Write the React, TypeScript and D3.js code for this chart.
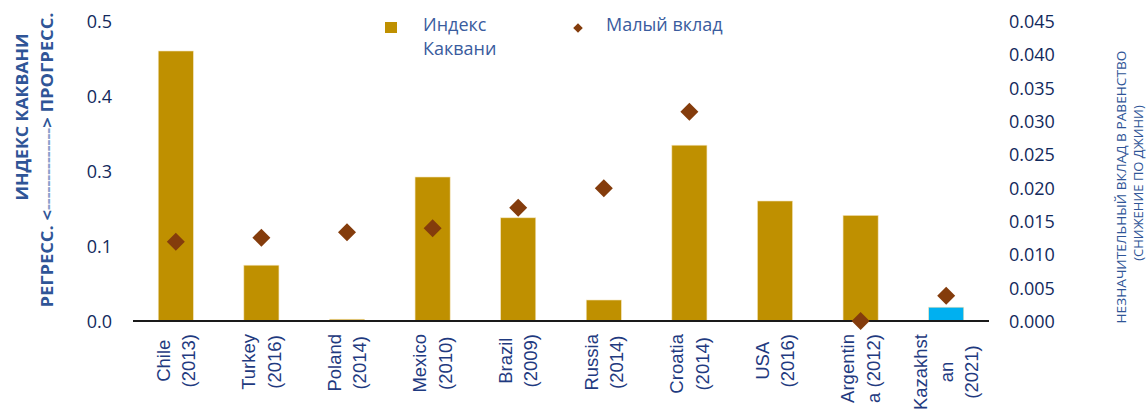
import * as d3 from "d3";
import { useMemo } from "react";

const labelLines: string[][] = [
  ["Chile", "(2013)"],
  ["Turkey", "(2016)"],
  ["Poland", "(2014)"],
  ["Mexico", "(2010)"],
  ["Brazil", "(2009)"],
  ["Russia", "(2014)"],
  ["Croatia", "(2014)"],
  ["USA", "(2016)"],
  ["Argentin", "a (2012)"],
  ["Kazakhst", "an", "(2021)"],
];
const kakwani = [0.45, 0.093, 0.003, 0.24, 0.172, 0.035, 0.293, 0.2, 0.176, 0.023];
const smallContribution: (number | null)[] = [0.0119, 0.0125, 0.0133, 0.0139, 0.017, 0.0199, 0.0314, null, 0.0, 0.0038];
const highlighted = ["Kazakhst"];

const leftTicks = [0, 0.125, 0.25, 0.375, 0.5];
const leftTickLabels = ["0.0", "0.1", "0.3", "0.4", "0.5"];
const rightTicks = [0, 0.005, 0.01, 0.015, 0.02, 0.025, 0.03, 0.035, 0.04, 0.045];
const rightTickLabels = ["0.000", "0.005", "0.010", "0.015", "0.020", "0.025", "0.030", "0.035", "0.040", "0.045"];

const W = 1146;
const H = 410;
const plot = { left: 133, right: 989, top: 21, bottom: 321 };

const GOLD = "#BF9000";
const BLUE = "#00B0F0";
const BROWN = "#843C0C";
const TICK_COLOR = "#12295C";
const TITLE_COLOR = "#2F5597";
const LABEL_FONT = "18.5px 'Liberation Sans', Arial, sans-serif";

export default function App() {
  const x = d3.scaleBand<number>().domain(d3.range(labelLines.length)).range([plot.left, plot.right]);
  const yL = d3.scaleLinear().domain([0, 0.5]).range([plot.bottom, plot.top]);
  const yR = d3.scaleLinear().domain([0, 0.045]).range([plot.bottom, plot.top]);
  const barW = x.bandwidth() * 0.41;
  const diamond = d3.symbol().type(d3.symbolSquare).size(162)() ?? "";
  const legendDiamond = d3.symbol().type(d3.symbolSquare).size(46)() ?? "";

  // widest line per label, used to top-align each wrapped block under the axis
  const widths = useMemo(() => {
    const ctx = document.createElement("canvas").getContext("2d");
    if (!ctx) return labelLines.map(() => 60);
    ctx.font = LABEL_FONT;
    return labelLines.map((lines) => Math.max(...lines.map((l) => ctx.measureText(l).width)));
  }, []);

  return (
    <svg width={W} height={H} style={{ position: "absolute", left: 0, top: 0, background: "#fff" }}>
      {/* bars */}
      {kakwani.map((v, i) => {
        const cx = (x(i) ?? 0) + x.bandwidth() / 2;
        return (
          <rect
            key={i}
            x={cx - barW / 2}
            y={yL(v)}
            width={barW}
            height={yL(0) - yL(v)}
            fill={highlighted.includes(labelLines[i][0]) ? BLUE : GOLD}
            stroke="#F3E3B8"
            strokeWidth={0.6}
          />
        );
      })}

      <line x1={plot.left} x2={plot.right} y1={plot.bottom} y2={plot.bottom} stroke="#1a1a1a" strokeWidth={2} />

      {/* diamonds */}
      {smallContribution.map((v, i) =>
        v === null ? null : (
          <path
            key={i}
            d={diamond}
            fill={BROWN}
            transform={`translate(${(x(i) ?? 0) + x.bandwidth() / 2},${yR(v)}) rotate(45)`}
          />
        )
      )}

      {/* left ticks */}
      {leftTicks.map((t, i) => (
        <text
          key={t}
          x={112}
          y={yL(t)}
          textAnchor="end"
          dominantBaseline="central"
          fontFamily="'Open Sans', sans-serif"
          fontSize={18}
          fill={TICK_COLOR}
        >
          {leftTickLabels[i]}
        </text>
      ))}

      {/* right ticks */}
      {rightTicks.map((t, i) => (
        <text
          key={t}
          x={1009}
          y={yR(t)}
          dominantBaseline="central"
          fontFamily="'Open Sans', sans-serif"
          fontSize={18}
          fill={TICK_COLOR}
        >
          {rightTickLabels[i]}
        </text>
      ))}

      {/* category labels */}
      {labelLines.map((lines, i) => {
        const cx = (x(i) ?? 0) + x.bandwidth() / 2;
        const cy = 334 + widths[i] / 2;
        return lines.map((l, j) => {
          const lx = cx + (j - (lines.length - 1) / 2) * 25.5;
          return (
            <text
              key={`${i}-${j}`}
              transform={`translate(${lx},${cy}) rotate(-90)`}
              textAnchor="middle"
              dominantBaseline="central"
              style={{ font: LABEL_FONT }}
              fill="#1F3A80"
            >
              {l}
            </text>
          );
        });
      })}

      {/* left axis title */}
      <g fontFamily="'Open Sans', sans-serif" fontWeight="bold" fontSize={16} fill={TITLE_COLOR}>
        <text transform="translate(28,117) rotate(-90)" textAnchor="middle" textLength={167} lengthAdjust="spacingAndGlyphs">
          ИНДЕКС КАКВАНИ
        </text>
        <text transform="translate(53,160) rotate(-90)" textAnchor="middle" textLength={295} lengthAdjust="spacingAndGlyphs">
          РЕГРЕСС. {"<"}
          <tspan fill="#8A9FCB">{"--------------"}</tspan>
          {">"} ПРОГРЕСС.
        </text>
      </g>

      {/* right axis title */}
      <g fontFamily="'Open Sans', sans-serif" fontSize={13} fill={TITLE_COLOR}>
        <text transform="translate(1126,187) rotate(-90)" textAnchor="middle" textLength={273} lengthAdjust="spacingAndGlyphs">
          НЕЗНАЧИТЕЛЬНЫЙ ВКЛАД В РАВЕНСТВО
        </text>
        <text transform="translate(1143,183) rotate(-90)" textAnchor="middle">
          (СНИЖЕНИЕ ПО ДЖИНИ)
        </text>
      </g>

      {/* legend */}
      <g fontFamily="'Open Sans', sans-serif" fontSize={18} fill="#3A5C9E">
        <rect x={385} y={22} width={12} height={11} fill={GOLD} />
        <text x={423} y={31}>Индекс</text>
        <text x={423} y={55}>Каквани</text>
        <path d={legendDiamond} fill={BROWN} transform="translate(578,28) rotate(45)" />
        <text x={606} y={31}>Малый вклад</text>
      </g>
    </svg>
  );
}
